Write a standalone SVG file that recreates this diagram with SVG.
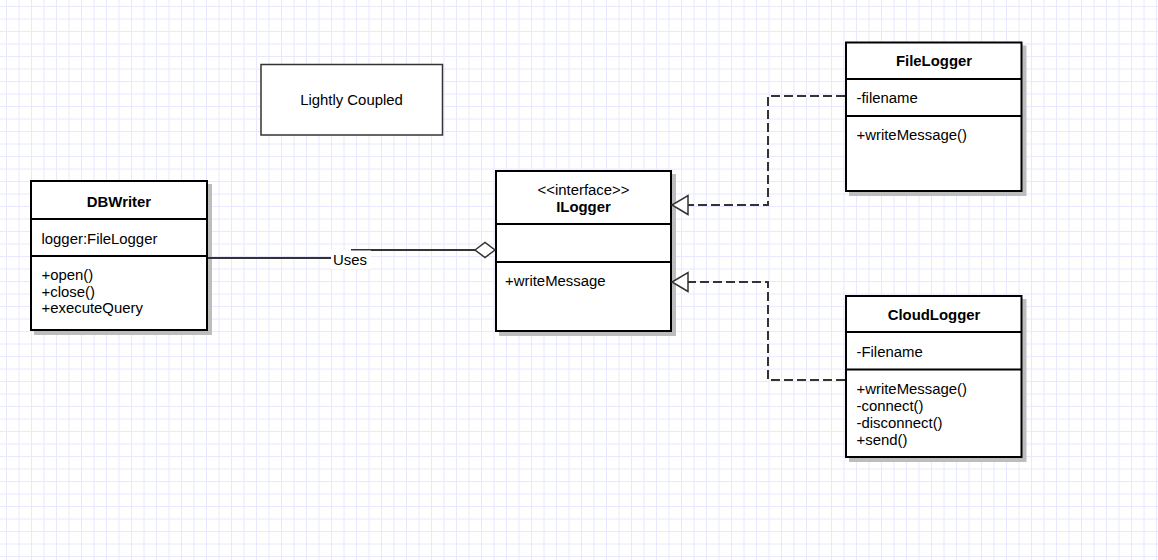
<svg xmlns="http://www.w3.org/2000/svg" width="1158" height="560" viewBox="0 0 1158 560">
<style>
text{font-family:"Liberation Sans",Arial,sans-serif;font-size:14.9px;fill:#000}
.b{font-weight:bold}
.c{text-anchor:middle}
.box{fill:#fff;stroke:#000;stroke-width:2}
.sh{fill:#bdbdbd;stroke:#bdbdbd;stroke-width:2}
.div{stroke:#000;stroke-width:2;fill:none}
.grid{stroke:#e8e8ff;stroke-width:1;fill:none}
.con{fill:none;stroke:#333;stroke-width:2}
.dash{stroke-dasharray:9 4}
</style>
<defs>
<marker id="diamond" markerWidth="23" markerHeight="18" refX="21" refY="9" orient="auto" markerUnits="userSpaceOnUse">
<path d="M1 9 L11 1.5 L21 9 L11 16.5 Z" fill="#fff" stroke="#333" stroke-width="1.5" stroke-dasharray="none"/>
</marker>
<marker id="tri" markerWidth="19" markerHeight="22" refX="17" refY="11" orient="auto" markerUnits="userSpaceOnUse">
<path d="M1 1.5 L17 11 L1 20.5 Z" fill="#fff" stroke="#333" stroke-width="1.5" stroke-dasharray="none"/>
</marker>
</defs>
<rect width="1158" height="560" fill="#fff"/>
<path class="grid" d="M6.5 0V560M19 0V560M31.5 0V560M44 0V560M56.5 0V560M69 0V560M81.5 0V560M94 0V560M106.5 0V560M119 0V560M131.5 0V560M144 0V560M156.5 0V560M169 0V560M181.5 0V560M194 0V560M206.5 0V560M219 0V560M231.5 0V560M244 0V560M256.5 0V560M269 0V560M281.5 0V560M294 0V560M306.5 0V560M319 0V560M331.5 0V560M344 0V560M356.5 0V560M369 0V560M381.5 0V560M394 0V560M406.5 0V560M419 0V560M431.5 0V560M444 0V560M456.5 0V560M469 0V560M481.5 0V560M494 0V560M506.5 0V560M519 0V560M531.5 0V560M544 0V560M556.5 0V560M569 0V560M581.5 0V560M594 0V560M606.5 0V560M619 0V560M631.5 0V560M644 0V560M656.5 0V560M669 0V560M681.5 0V560M694 0V560M706.5 0V560M719 0V560M731.5 0V560M744 0V560M756.5 0V560M769 0V560M781.5 0V560M794 0V560M806.5 0V560M819 0V560M831.5 0V560M844 0V560M856.5 0V560M869 0V560M881.5 0V560M894 0V560M906.5 0V560M919 0V560M931.5 0V560M944 0V560M956.5 0V560M969 0V560M981.5 0V560M994 0V560M1006.5 0V560M1019 0V560M1031.5 0V560M1044 0V560M1056.5 0V560M1069 0V560M1081.5 0V560M1094 0V560M1106.5 0V560M1119 0V560M1131.5 0V560M1144 0V560M1156.5 0V560"/>
<path class="grid" d="M0 6.5H1158M0 19H1158M0 31.5H1158M0 44H1158M0 56.5H1158M0 69H1158M0 81.5H1158M0 94H1158M0 106.5H1158M0 119H1158M0 131.5H1158M0 144H1158M0 156.5H1158M0 169H1158M0 181.5H1158M0 194H1158M0 206.5H1158M0 219H1158M0 231.5H1158M0 244H1158M0 256.5H1158M0 269H1158M0 281.5H1158M0 294H1158M0 306.5H1158M0 319H1158M0 331.5H1158M0 344H1158M0 356.5H1158M0 369H1158M0 381.5H1158M0 394H1158M0 406.5H1158M0 419H1158M0 431.5H1158M0 444H1158M0 456.5H1158M0 469H1158M0 481.5H1158M0 494H1158M0 506.5H1158M0 519H1158M0 531.5H1158M0 544H1158M0 556.5H1158"/>

<g id="note-lightly-coupled">
<rect x="261" y="64.5" width="181.5" height="70.5" fill="#fff" stroke="#333" stroke-width="1.5"/>
<text class="c" x="351.5" y="105">Lightly Coupled</text>
</g>

<g id="DBWriter">
<rect class="sh" x="35" y="185" width="176" height="149"/>
<rect class="box" x="31" y="181" width="176" height="149"/>
<path class="div" d="M31 219H207M31 256H207"/>
<text class="b c" x="119" y="206.5">DBWriter</text>
<text x="41.5" y="243.5">logger:FileLogger</text>
<text x="41.5" y="280">+open()</text>
<text x="41.5" y="296.7">+close()</text>
<text x="41.5" y="313.3">+executeQuery</text>
</g>

<g id="ILogger">
<rect class="sh" x="500" y="175" width="175" height="160"/>
<rect class="box" x="496" y="171" width="175" height="160"/>
<path class="div" d="M496 224H671M496 262H671"/>
<text class="c" x="583.5" y="195">&lt;&lt;interface&gt;&gt;</text>
<text class="b c" x="583.5" y="212">ILogger</text>
<text x="505" y="285.5">+writeMessage</text>
</g>

<g id="FileLogger">
<rect class="sh" x="850" y="46.5" width="175.5" height="148.5"/>
<rect class="box" x="846" y="42.5" width="175.5" height="148.5"/>
<path class="div" d="M846 79H1021.5M846 116H1021.5"/>
<text class="b c" x="934" y="66">FileLogger</text>
<text x="856.5" y="102.8">-filename</text>
<text x="856.5" y="140">+writeMessage()</text>
</g>

<g id="CloudLogger">
<rect class="sh" x="850" y="300" width="175.5" height="161"/>
<rect class="box" x="846" y="296" width="175.5" height="161"/>
<path class="div" d="M846 332H1021.5M846 369.5H1021.5"/>
<text class="b c" x="934" y="320">CloudLogger</text>
<text x="856.5" y="356.7">-Filename</text>
<text x="856.5" y="394">+writeMessage()</text>
<text x="856.5" y="410.7">-connect()</text>
<text x="856.5" y="428.3">-disconnect()</text>
<text x="856.5" y="445">+send()</text>
</g>

<g id="connectors">
<path class="con" d="M208 258H352V250H495" marker-end="url(#diamond)"/>
<path class="con dash" d="M845 96H768V205H672" marker-end="url(#tri)"/>
<path class="con dash" d="M845 380H768V282H672" marker-end="url(#tri)"/>
<g id="uses-label">
<rect x="331" y="250.5" width="40" height="18.5" fill="#fff"/>
<text class="c" x="350" y="264.5">Uses</text>
</g>
</g>
</svg>
